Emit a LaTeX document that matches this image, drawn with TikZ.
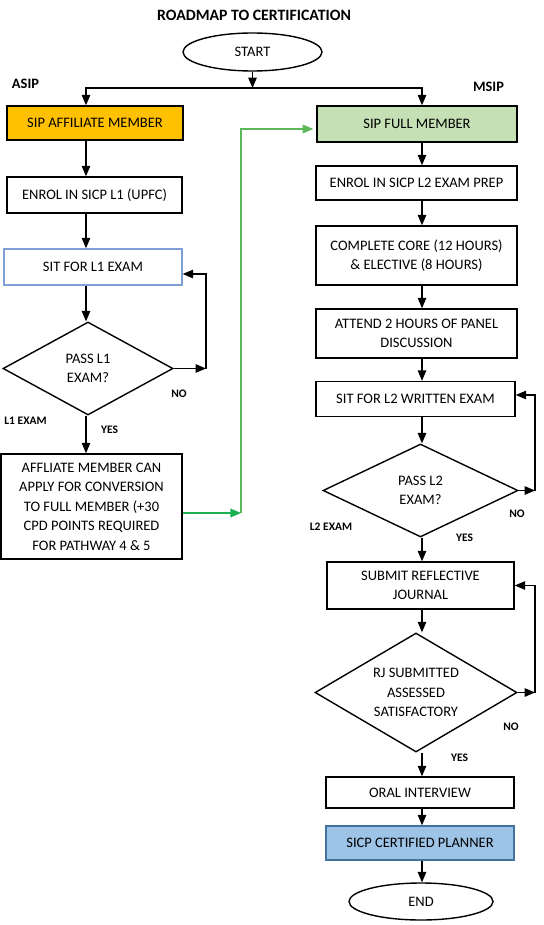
\documentclass[tikz,border=0pt]{standalone}
\usepackage{fontspec}
\setmainfont{Carlito}
\usepackage{tikz}
\usetikzlibrary{arrows,positioning,shapes.geometric}
\usetikzlibrary{calc}
\definecolor{affgold}{HTML}{FFC000}
\definecolor{fullgreen}{HTML}{C5E0B4}
\definecolor{certblue}{HTML}{9DC3E6}
\definecolor{certedge}{HTML}{41719C}
\definecolor{sitedge}{HTML}{7F9FD6}
\definecolor{linkgreen}{HTML}{1DB050}
\definecolor{linklight}{HTML}{5DB85A}
\newcommand{\boxfont}{\fontsize{14.5}{19.5}\selectfont}
\newcommand{\lblfont}{\fontsize{11.5}{13}\selectfont\bfseries}

\begin{document}
\begin{tikzpicture}[x=1pt,y=-1pt,>=triangle 45,
  box/.style={draw,line width=1.5pt,inner sep=2pt,align=center,font=\boxfont},
  term/.style={draw,ellipse,line width=1.4pt,inner sep=0pt,font=\boxfont},
  decide/.style={draw,diamond,aspect=2,line width=1.4pt,inner sep=0pt,align=center,font=\boxfont},
  lbl/.style={font=\lblfont,inner sep=0pt},
  arr/.style={->,line width=1.4pt},
  linkarr/.style={->,line width=1.5pt,draw=linkgreen}]
\useasboundingbox (0,0) rectangle (543,925);

\node[font=\fontsize{15.8}{18}\selectfont\bfseries] (title) at (254,15) {ROADMAP TO CERTIFICATION};
\node[term,minimum width=139pt,minimum height=38pt] (start) at (252.5,52) {START};
\node[lbl,font=\fontsize{14.4}{16}\selectfont\bfseries] (asip) at (25.5,84) {ASIP};
\node[lbl,font=\fontsize{14.4}{16}\selectfont\bfseries] (msip) at (488.5,87) {MSIP};

% left column
\node[box,fill=affgold,minimum width=176pt,minimum height=34pt] (sipaff) at (95,123) {SIP AFFILIATE MEMBER};
\node[box,minimum width=175pt,minimum height=36pt] (enrolone) at (94.5,195) {ENROL IN SICP L1 (UPFC)};
\node[box,draw=sitedge,minimum width=178pt,minimum height=36pt] (sitone) at (93,267) {SIT FOR L1 EXAM};
\node[decide,minimum width=170pt,minimum height=93pt] (passone) at (88,368.5) {PASS L1\\EXAM?};
\node[box,minimum width=181pt,minimum height=105pt] (affl) at (91.5,506.5) {AFFLIATE MEMBER CAN\\APPLY FOR CONVERSION\\TO FULL MEMBER (+30\\CPD POINTS REQUIRED\\FOR PATHWAY 4 \& 5};

% right column
\node[box,fill=fullgreen,minimum width=200pt,minimum height=36pt] (sipfull) at (417,124) {SIP FULL MEMBER};
\node[box,minimum width=201pt,minimum height=34pt] (enroltwo) at (416.5,183) {ENROL IN SICP L2 EXAM PREP};
\node[box,minimum width=201pt,minimum height=59pt] (core) at (416.5,255.5) {COMPLETE CORE (12 HOURS)\\\& ELECTIVE (8 HOURS)};
\node[box,minimum width=201pt,minimum height=49pt] (panel) at (416.5,333.5) {ATTEND 2 HOURS OF PANEL\\DISCUSSION};
\node[box,minimum width=199pt,minimum height=35pt] (sittwo) at (415.5,399) {SIT FOR L2 WRITTEN EXAM};
\node[decide,minimum width=195pt,minimum height=93pt] (passtwo) at (420.5,490.5) {PASS L2\\EXAM?};
\node[box,minimum width=187pt,minimum height=47pt] (journal) at (420.5,585.5) {SUBMIT REFLECTIVE\\JOURNAL};
\node[decide,minimum width=202pt,minimum height=119pt] (rj) at (416,692.5) {RJ SUBMITTED\\ASSESSED\\SATISFACTORY};
\node[box,minimum width=188pt,minimum height=31pt] (oral) at (420,792.5) {ORAL INTERVIEW};
\node[box,fill=certblue,draw=certedge,minimum width=188pt,minimum height=34pt] (sicp) at (420,843) {SICP CERTIFIED PLANNER};
\node[term,minimum width=144pt,minimum height=37pt] (end) at (421,901.5) {END};

% labels
\node[lbl] (noone) at (179,394) {NO};
\node[lbl] (examone) at (25.5,421) {L1 EXAM};
\node[lbl] (yesone) at (109.5,430) {YES};
\node[lbl] (notwo) at (517,514) {NO};
\node[lbl] (examtwo) at (331,527) {L2 EXAM};
\node[lbl] (yestwo) at (464.5,538) {YES};
\node[lbl] (nothree) at (511,727) {NO};
\node[lbl] (yesthree) at (459.5,758) {YES};

\coordinate (colL) at (86,0);
\coordinate (colR) at (422,0);
\coordinate (split) at (start.south |- 0,88);
\coordinate (loopone) at (206,0);
\coordinate (looptwo) at (535,0);
\coordinate (glink) at (241,513);

\draw[arr] (start.south) -- (split);
\draw[arr] (split) -| (colL |- sipaff.north);
\draw[arr] (split) -| (colR |- sipfull.north);

\draw[arr] (colL |- sipaff.south) -- (colL |- enrolone.north);
\draw[arr] (colL |- enrolone.south) -- (colL |- sitone.north);
\draw[arr] (colL |- sitone.south) -- (colL |- passone.north);
\draw[arr] (colL |- passone.south) -- (colL |- affl.north);
\draw[arr] (passone.east) -- (loopone |- passone.east);
\draw[arr] (loopone |- passone.east) |- ([yshift=-7pt]sitone.east);

\draw[linkarr] (affl.east |- glink) -- (glink);
\draw[linkarr,draw=linklight,shorten >=3pt] (glink) |- ([yshift=-5pt]sipfull.west);

\draw[arr] (colR |- sipfull.south) -- (colR |- enroltwo.north);
\draw[arr] (colR |- enroltwo.south) -- (colR |- core.north);
\draw[arr] (colR |- core.south) -- (colR |- panel.north);
\draw[arr] (colR |- panel.south) -- (colR |- sittwo.north);
\draw[arr] (colR |- sittwo.south) -- (colR |- passtwo.north);
\draw[arr] (colR |- passtwo.south) -- (colR |- journal.north);
\draw[arr] (colR |- journal.south) -- (colR |- rj.north);
\draw[arr] (colR |- rj.south) -- (colR |- oral.north);
\draw[arr] (colR |- oral.south) -- (colR |- sicp.north);
\draw[arr] (colR |- sicp.south) -- (colR |- end.north);

\draw[arr] (passtwo.east) -- (looptwo |- passtwo.east);
\draw[arr] (looptwo |- passtwo.east) |- ([yshift=4pt]sittwo.east);
\draw[arr] (rj.east) -- (looptwo |- rj.east);
\draw[arr] (looptwo |- rj.east) |- (journal.east);
\end{tikzpicture}
\end{document}
